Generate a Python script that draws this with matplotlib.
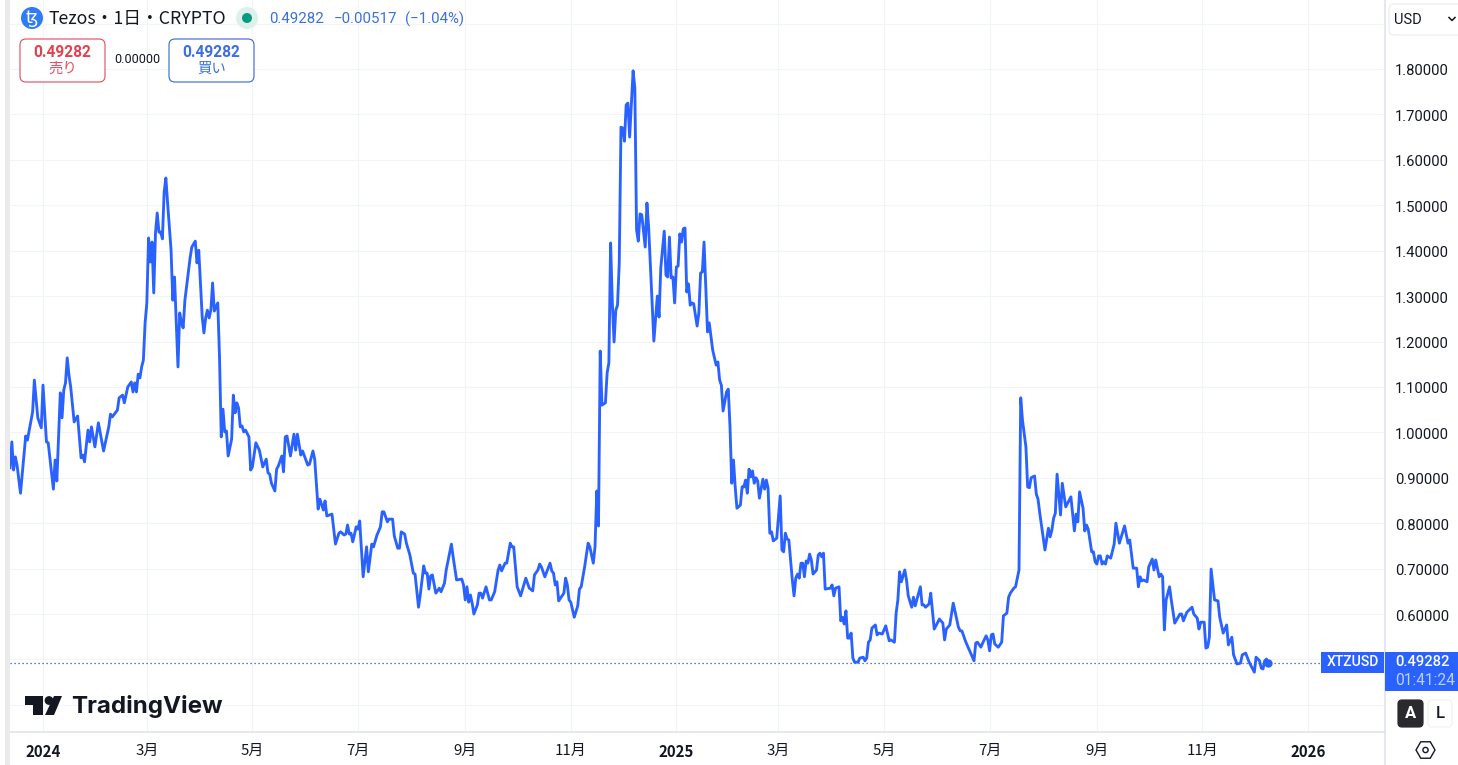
import matplotlib
matplotlib.use("Agg")
import matplotlib.pyplot as plt
import matplotlib.transforms as mtrans
import pandas as pd
from matplotlib.patches import FancyBboxPatch, Circle, Rectangle, Polygon, RegularPolygon

START = pd.Timestamp("2024-01-01")

day_offsets = [
 -19,-18,-17,-16,-15,-13,-10,-9,-6,-5,
 -3,-1,0,2,3,6,7,8,10,11,
 12,13,14,15,16,18,20,22,23,24,
 26,27,28,30,32,35,38,39,40,43,
 44,46,47,49,51,52,53,54,55,56,
 57,58,59,60,61,62,63,64,65,66,
 67,68,69,70,71,72,74,75,76,78,
 79,80,81,82,85,86,88,89,90,92,
 93,94,95,96,97,98,99,101,102,103,
 104,105,106,107,109,110,111,112,113,114,
 115,116,117,119,120,121,123,125,127,129,
 130,131,132,134,135,136,138,139,140,141,
 143,145,146,147,149,150,153,154,156,157,
 159,160,162,163,164,167,169,171,172,174,
 175,176,177,178,179,181,182,183,185,187,
 188,190,191,193,195,196,197,199,200,202,
 203,205,206,207,209,210,212,214,215,217,
 218,220,221,222,223,224,225,227,229,230,
 232,233,236,237,239,242,243,244,245,246,
 247,248,249,251,252,253,254,256,258,259,
 261,263,264,265,267,268,270,271,272,274,
 276,279,281,283,284,286,287,288,290,293,
 294,295,296,297,298,301,302,303,304,305,
 307,309,310,311,313,315,316,318,319,320,
 321,322,323,325,326,327,328,329,330,331,
 332,333,334,335,336,337,338,339,341,342,
 343,344,345,346,348,349,350,353,355,356,
 357,359,360,361,362,363,364,365,366,367,
 368,369,370,371,372,373,374,375,376,378,
 379,380,381,382,384,385,387,389,390,391,
 392,393,395,396,397,398,399,400,401,403,
 404,405,406,407,408,409,410,411,412,413,
 414,416,417,418,419,420,421,422,424,426,
 427,428,429,430,431,433,434,435,436,437,
 438,439,440,441,442,443,444,445,447,448,
 449,450,451,452,455,456,457,458,460,461,
 462,463,464,465,466,467,468,469,471,472,
 474,475,476,477,478,479,481,482,483,485,
 487,489,490,492,493,494,495,496,498,499,
 500,502,503,504,507,508,509,510,512,513,
 515,516,518,520,521,522,524,526,529,530,
 531,533,534,538,539,540,542,543,545,546,
 547,548,549,550,552,554,555,557,558,559,
 561,562,564,565,566,568,569,570,571,573,
 574,575,576,579,581,582,583,584,585,586,
 588,589,591,594,596,597,598,599,601,602,
 603,604,606,607,608,609,610,611,612,613,
 614,615,617,619,620,622,624,625,627,628,
 630,632,633,634,635,636,638,639,641,642,
 643,645,646,647,648,649,651,652,654,657,
 658,659,661,664,665,667,668,669,671,672,
 673,674,675,676,677,679,680,682,684,685,
 687,688,690,692,693,695,697,700,701,703,
 704,705,706,707,708,
]

prices = [
 .922,.979,.917,.946,.928,.866,.992,.983,1.045,1.115,
 1.032,1.010,1.104,.979,.977,.875,.939,.893,1.087,1.032,
 1.093,1.109,1.164,1.126,1.100,1.023,1.036,.944,.950,.935,
 1.005,.979,1.012,.968,1.021,.959,1.012,1.040,1.034,1.049,
 1.076,1.082,1.065,1.100,1.111,1.089,1.109,1.089,1.128,1.120,
 1.144,1.159,1.241,1.285,1.428,1.375,1.419,1.307,1.439,1.483,
 1.441,1.441,1.426,1.529,1.560,1.505,1.401,1.291,1.342,1.144,
 1.263,1.241,1.230,1.291,1.384,1.408,1.421,1.373,1.401,1.254,
 1.219,1.252,1.269,1.252,1.269,1.329,1.267,1.285,1.166,.990,
 1.051,1.001,1.003,.948,.985,1.082,1.043,1.065,1.054,1.012,
 1.014,1.001,1.005,.990,.917,.924,.977,.961,.924,.941,
 .911,.908,.888,.871,.919,.926,.948,.913,.990,.992,
 .948,.996,.961,.996,.950,.959,.928,.930,.959,.941,
 .831,.853,.829,.849,.816,.820,.754,.778,.781,.774,
 .776,.796,.776,.778,.759,.792,.787,.805,.682,.748,
 .693,.754,.748,.774,.792,.825,.825,.803,.809,.809,
 .772,.745,.745,.781,.776,.756,.730,.690,.688,.615,
 .642,.706,.690,.690,.655,.684,.686,.646,.657,.649,
 .668,.697,.754,.726,.675,.677,.664,.631,.660,.626,
 .642,.624,.600,.620,.646,.646,.635,.660,.631,.631,
 .649,.697,.708,.695,.712,.712,.756,.748,.748,.660,
 .640,.679,.657,.651,.686,.697,.710,.704,.682,.712,
 .695,.690,.664,.671,.629,.646,.679,.664,.631,.626,
 .593,.618,.655,.660,.704,.756,.748,.712,.748,.871,
 .794,1.179,1.060,1.065,1.131,1.153,1.417,1.285,1.199,1.269,
 1.280,1.373,1.672,1.670,1.641,1.721,1.725,1.650,1.796,1.758,
 1.446,1.421,1.481,1.479,1.408,1.505,1.450,1.201,1.300,1.254,
 1.362,1.443,1.346,1.342,1.430,1.340,1.342,1.285,1.364,1.366,
 1.437,1.419,1.448,1.450,1.309,1.327,1.280,1.285,1.283,1.234,
 1.263,1.351,1.353,1.419,1.221,1.241,1.181,1.148,1.155,1.115,
 1.104,1.047,1.089,1.095,1.012,.888,.939,.880,.833,.840,
 .880,.880,.895,.866,.919,.902,.915,.888,.900,.893,
 .855,.897,.875,.895,.877,.778,.781,.761,.767,.860,
 .741,.737,.778,.765,.763,.675,.640,.679,.688,.679,
 .712,.712,.682,.717,.712,.732,.719,.688,.697,.730,
 .734,.726,.734,.655,.657,.664,.640,.657,.660,.585,
 .593,.578,.607,.547,.547,.558,.503,.494,.494,.503,
 .505,.497,.503,.538,.543,.569,.576,.554,.558,.556,
 .574,.541,.543,.538,.602,.631,.693,.671,.697,.675,
 .640,.615,.637,.618,.660,.620,.620,.615,.622,.646,
 .567,.574,.589,.580,.543,.567,.576,.624,.571,.563,
 .563,.541,.532,.497,.536,.538,.527,.536,.552,.543,
 .519,.554,.556,.534,.527,.538,.596,.602,.637,.646,
 .657,.660,.697,1.076,1.027,.968,.880,.878,.900,.904,
 .864,.853,.822,.741,.789,.770,.785,.811,.822,.908,
 .818,.888,.836,.858,.783,.820,.803,.869,.833,.783,
 .796,.787,.737,.737,.715,.710,.728,.728,.710,.715,
 .710,.728,.723,.754,.800,.756,.781,.794,.756,.763,
 .701,.701,.660,.682,.673,.675,.671,.704,.721,.697,
 .719,.682,.688,.682,.565,.631,.660,.631,.580,.600,
 .600,.585,.604,.615,.600,.591,.567,.582,.582,.525,
 .527,.549,.699,.664,.631,.629,.593,.558,.576,.532,
 .549,.510,.490,.492,.510,.514,.494,.472,.505,.497,
 .481,.479,.497,.501,.49282,
]

tick_dates = ["2024-01-01","2024-03-01","2024-05-01","2024-07-01","2024-09-01","2024-11-01",
              "2025-01-01","2025-03-01","2025-05-01","2025-07-01","2025-09-01","2025-11-01","2026-01-01"]
tick_labels = ["2024","3月","5月","7月","9月","11月","2025","3月","5月","7月","9月","11月","2026"]
year_labels = ["2024","2025","2026"]
price_ticks = [0.6,0.7,0.8,0.9,1.0,1.1,1.2,1.3,1.4,1.5,1.6,1.7,1.8]
grid_only_ticks = [0.4,0.5,1.9]

BLUE = "#2962ff"
GRID = "#f3f4f7"
SEP = "#e0e3eb"
FONT = ["Roboto", "Noto Sans CJK JP", "DejaVu Sans"]
JP = ["Noto Sans CJK JP", "Roboto", "DejaVu Sans"]
plt.rcParams["font.family"] = FONT

W, H = 1458, 765
fig = plt.figure(figsize=(W/100, H/100), dpi=100, facecolor="white")
ax = fig.add_axes([10/W, (H-732)/H, 1375/W, 732/H])

dates = START + pd.to_timedelta(day_offsets, unit="D")
ax.plot(dates, prices, color=BLUE, lw=2.05, solid_joinstyle="round", zorder=3)
ax.plot(dates[-1:], prices[-1:], "o", color=BLUE, ms=6, mew=0, zorder=4)
ax.axhline(prices[-1], color="#2a4fb0", lw=0.9, ls=(0, (1, 2.2)), zorder=2)

ax.set_xlim(START + pd.Timedelta(days=-19.07), START + pd.Timedelta(days=775.5))
ax.set_ylim(0.3403, 1.9519)

ax.set_xticks(pd.to_datetime(tick_dates))
ax.set_xticklabels(tick_labels, fontsize=10.8, color="#131722", family=JP)
for lab in ax.get_xticklabels():
    if lab.get_text() in year_labels:
        lab.set_fontweight("bold")
ax.tick_params(axis="x", length=0, pad=8.5)
ax.set_yticks(price_ticks)
ax.set_yticks(grid_only_ticks, minor=True)
ax.set_yticklabels([f"{v:.5f}" for v in price_ticks], fontsize=10.6, color="#131722")
ax.yaxis.tick_right()
ax.tick_params(axis="y", which="both", length=0, pad=7)
down_one = mtrans.ScaledTranslation(0, -1/100, fig.dpi_scale_trans)
for lab in ax.get_yticklabels():
    lab.set_transform(lab.get_transform() + down_one)
ax.grid(True, which="both", color=GRID, lw=0.85, zorder=0)
ax.set_axisbelow(True)
for s in ("top", "left"):
    ax.spines[s].set_visible(False)
for s in ("bottom", "right"):
    ax.spines[s].set_color(SEP)
    ax.spines[s].set_linewidth(1.2)

# overlay in pixel coordinates for the interface furniture
ov = fig.add_axes([0, 0, 1, 1], facecolor="none")
ov.set_xlim(0, W); ov.set_ylim(H, 0); ov.axis("off")

ov.add_patch(Rectangle((5, 0), 5, H, color="#ebebeb", lw=0))
ov.plot([1385, 1385], [732, 765], color=SEP, lw=1.2)

# header
ov.add_patch(Circle((32, 18), 11, color="#2f7cf6", lw=0))
ov.text(32, 18, "ꜩ", color="white", fontsize=12.5, ha="center", va="center", family="DejaVu Sans")
ov.text(49, 19, "Tezos・1日・CRYPTO", fontsize=12.8, color="#131722", va="center", family=JP)
ov.add_patch(Circle((247, 18), 11, color="#dcf1ec", lw=0))
ov.add_patch(Circle((247, 18), 5, color="#089981", lw=0))
for x, t in [(269, "0.49282"), (334, "−0.00517"), (405, "(−1.04%)")]:
    ov.text(x, 19, t, fontsize=10.8, color="#3b6fe0", va="center")

# buy and sell boxes
def box(x0, y0, x1, y1, ec, fc="white", r=6, lw=0.85):
    ov.add_patch(FancyBboxPatch((x0+r, y0+r), x1-x0-2*r, y1-y0-2*r,
                 boxstyle=f"round,pad={r},rounding_size={r}", ec=ec, fc=fc, lw=lw))
box(20, 39, 105, 82, "#e25568")
box(169, 39, 254, 82, "#3f6fd8")
ov.text(62.5, 52, "0.49282", fontsize=11.2, fontweight="bold", color="#e5404f", ha="center", va="center")
ov.text(62.5, 69, "売り", fontsize=10.4, color="#e5505f", ha="center", va="center", family=JP)
ov.text(211.5, 52, "0.49282", fontsize=11.2, fontweight="bold", color="#3b6fe0", ha="center", va="center")
ov.text(211.5, 69, "買い", fontsize=10.4, color="#3b6fe0", ha="center", va="center", family=JP)
ov.text(137.5, 59.5, "0.00000", fontsize=9.1, color="#131722", ha="center", va="center")

# currency selector
box(1389, 4, 1470, 35, "#eceef3", r=5)
ov.text(1394, 19.5, "USD", fontsize=10.5, color="#131722", va="center")
ov.plot([1449, 1452, 1455], [17.5, 20.5, 17.5], color="#131722", lw=1.1)

# price tag
ov.add_patch(Rectangle((1385, 652), 73, 39, color=BLUE, lw=0))
ov.add_patch(Rectangle((1321, 652), 63, 20.5, color=BLUE, lw=0))
ov.text(1352.5, 662, "XTZUSD", fontsize=10.1, fontweight="medium", color="white", ha="center", va="center")
ov.text(1422, 662.5, "0.49282", fontsize=10.6, fontweight="medium", color="white", ha="center", va="center")
ov.text(1425, 680.5, "01:41:24", fontsize=11.2, color="#bcd0ff", ha="center", va="center")

# A and L buttons
box(1398, 700, 1423, 727, "#2a2a2e", fc="#2a2a2e", r=4)
ov.text(1410.5, 713.5, "A", fontsize=12, fontweight="bold", color="white", ha="center", va="center")
box(1428, 700, 1452, 727, "#f0f2f6", r=4)
ov.text(1440, 713.5, "L", fontsize=12, fontweight="medium", color="#131722", ha="center", va="center")

# settings hexagon
ov.add_patch(RegularPolygon((1425.5, 750), 6, radius=9.5, orientation=0.5236, fc="none", ec="#131722", lw=1.0))
ov.add_patch(Circle((1425.5, 750), 2.6, fc="none", ec="#131722", lw=1.0))

# logo
LOGO = "#131722"
ov.add_patch(Polygon([(25, 696), (43, 696), (43, 715), (33, 715), (33, 705), (25, 705)], color=LOGO, lw=0))
ov.add_patch(Circle((49, 700.5), 4.4, color=LOGO, lw=0))
ov.add_patch(Polygon([(54, 696), (62, 696), (54, 715), (45, 715)], color=LOGO, lw=0))
ov.text(71, 706, "TradingView", fontsize=17.4, fontweight="bold", color=LOGO, va="center", family=["Inter", "Roboto"])

assert len(day_offsets) == len(prices), (len(day_offsets), len(prices))
fig.savefig("out.png", dpi=100, facecolor="white")
